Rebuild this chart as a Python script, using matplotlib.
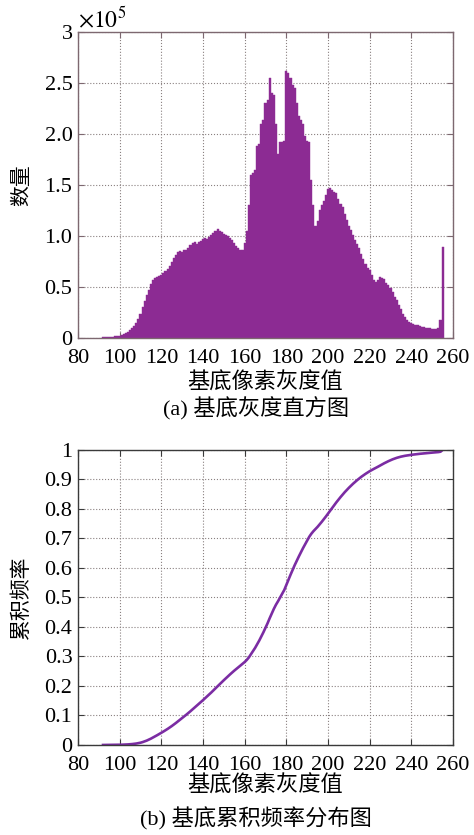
import matplotlib
matplotlib.use('Agg')
import matplotlib.pyplot as plt
import numpy as np

plt.rcParams['font.family'] = ['Liberation Serif', 'Noto Sans CJK SC']
plt.rcParams['mathtext.fontset'] = 'stix'

# 灰度级 92..255 的像素数量（单位 1e5）
gray = np.arange(92, 256)
counts = [
    0.01, 0.01, 0.01, 0.01, 0.01, 0.01, 0.015, 0.02,            # 92-99
    0.02, 0.03, 0.04, 0.05, 0.06, 0.08, 0.10, 0.12, 0.15, 0.19,  # 100-109
    0.24, 0.30, 0.36, 0.42, 0.47, 0.53, 0.57, 0.59, 0.60, 0.61,  # 110-119
    0.62, 0.64, 0.66, 0.68, 0.71, 0.75, 0.78, 0.81, 0.84, 0.85,  # 120-129
    0.84, 0.86, 0.86, 0.88, 0.91, 0.93, 0.94, 0.92, 0.94, 0.95,  # 130-139
    0.97, 0.98, 0.97, 0.99, 1.01, 1.03, 1.05, 1.07, 1.05, 1.04,  # 140-149
    1.02, 1.01, 1.00, 0.98, 0.96, 0.93, 0.90, 0.88, 0.86, 0.86,  # 150-159
    0.93, 1.05, 1.30, 1.60, 1.62, 1.65, 1.88, 1.90, 2.10, 2.14,  # 160-169
    2.30, 2.33, 2.55, 2.40, 2.38, 2.10, 1.80, 1.92, 1.92, 1.93,  # 170-179
    2.62, 2.60, 2.55, 2.48, 2.45, 2.30, 2.18, 2.14, 2.10, 1.98,  # 180-189
    1.93, 1.92, 1.55, 1.30, 1.10, 1.15, 1.25, 1.30, 1.34, 1.40,  # 190-199
    1.46, 1.47, 1.45, 1.43, 1.42, 1.36, 1.31, 1.28, 1.22, 1.16,  # 200-209
    1.10, 1.06, 1.01, 0.96, 0.92, 0.88, 0.82, 0.77, 0.73, 0.69,  # 210-219
    0.67, 0.62, 0.57, 0.55, 0.57, 0.60, 0.59, 0.58, 0.54, 0.52,  # 220-229
    0.49, 0.45, 0.40, 0.37, 0.32, 0.28, 0.24, 0.21, 0.18, 0.16,  # 230-239
    0.15, 0.14, 0.13, 0.13, 0.12, 0.11, 0.11, 0.10, 0.10, 0.10,  # 240-249
    0.09, 0.09, 0.09, 0.10, 0.18, 0.89,                          # 250-255
]
counts = np.array(counts)
cum_freq = np.cumsum(counts) / counts.sum()

xticks = np.arange(80, 261, 20)
yticks_a = [0, 0.5, 1.0, 1.5, 2.0, 2.5, 3]
ylabels_a = ['0', '0.5', '1.0', '1.5', '2.0', '2.5', '3']
yticks_b = np.arange(0, 1.01, 0.1)
ylabels_b = ['0', '0.1', '0.2', '0.3', '0.4', '0.5', '0.6', '0.7', '0.8', '0.9', '1']

fig = plt.figure(figsize=(4.74, 8.35), dpi=100)
ax1 = fig.add_axes([0.1646, 0.5952, 0.7911, 0.3665])
ax2 = fig.add_axes([0.1646, 0.1078, 0.7911, 0.3533])

# (a) 直方图
ax1.bar(gray, counts, width=1.0, color='#8c2b93', edgecolor='#8c2b93', linewidth=0.3)
ax1.set_xlim(80, 260)
ax1.set_ylim(0, 3)
ax1.set_yticks(yticks_a)
ax1.set_yticklabels(ylabels_a)
ax1.text(0.0, 1.0, r'$\times10^5$', transform=ax1.transAxes, fontsize=17,
         ha='left', va='bottom')
ax1.set_ylabel('数量', fontsize=15, labelpad=9)
ax1.set_xlabel('基底像素灰度值', fontsize=16, labelpad=3)
frame_a = '#7d6870'

# (b) 累积频率
ax2.plot(gray, cum_freq, color='#7b2ca3', linewidth=1.9)
ax2.set_xlim(80, 260)
ax2.set_ylim(0, 1)
ax2.set_yticks(yticks_b)
ax2.set_yticklabels(ylabels_b)
ax2.set_ylabel('累积频率', fontsize=15, labelpad=9)
ax2.set_xlabel('基底像素灰度值', fontsize=16, labelpad=0)
frame_b = '#3a3a3a'

for ax, fc in [(ax1, frame_a), (ax2, frame_b)]:
    ax.set_xticks(xticks)
    ax.set_axisbelow(True)
    ax.grid(True, linestyle=':', linewidth=0.8, color='#8a8080')
    ax.tick_params(direction='in', length=4, top=True, right=True,
                   labelsize=16, color=fc)
    ax.tick_params(axis='x', pad=8)
    ax.tick_params(axis='y', pad=4)
    for sp in ax.spines.values():
        sp.set_color(fc)
        sp.set_linewidth(1.0)

fig.text(0.54, 0.511, '(a) 基底灰度直方图', fontsize=16, ha='center', va='center')
fig.text(0.54, 0.019, '(b) 基底累积频率分布图', fontsize=16, ha='center', va='center')

fig.savefig('out.png', dpi=100, facecolor='white')
